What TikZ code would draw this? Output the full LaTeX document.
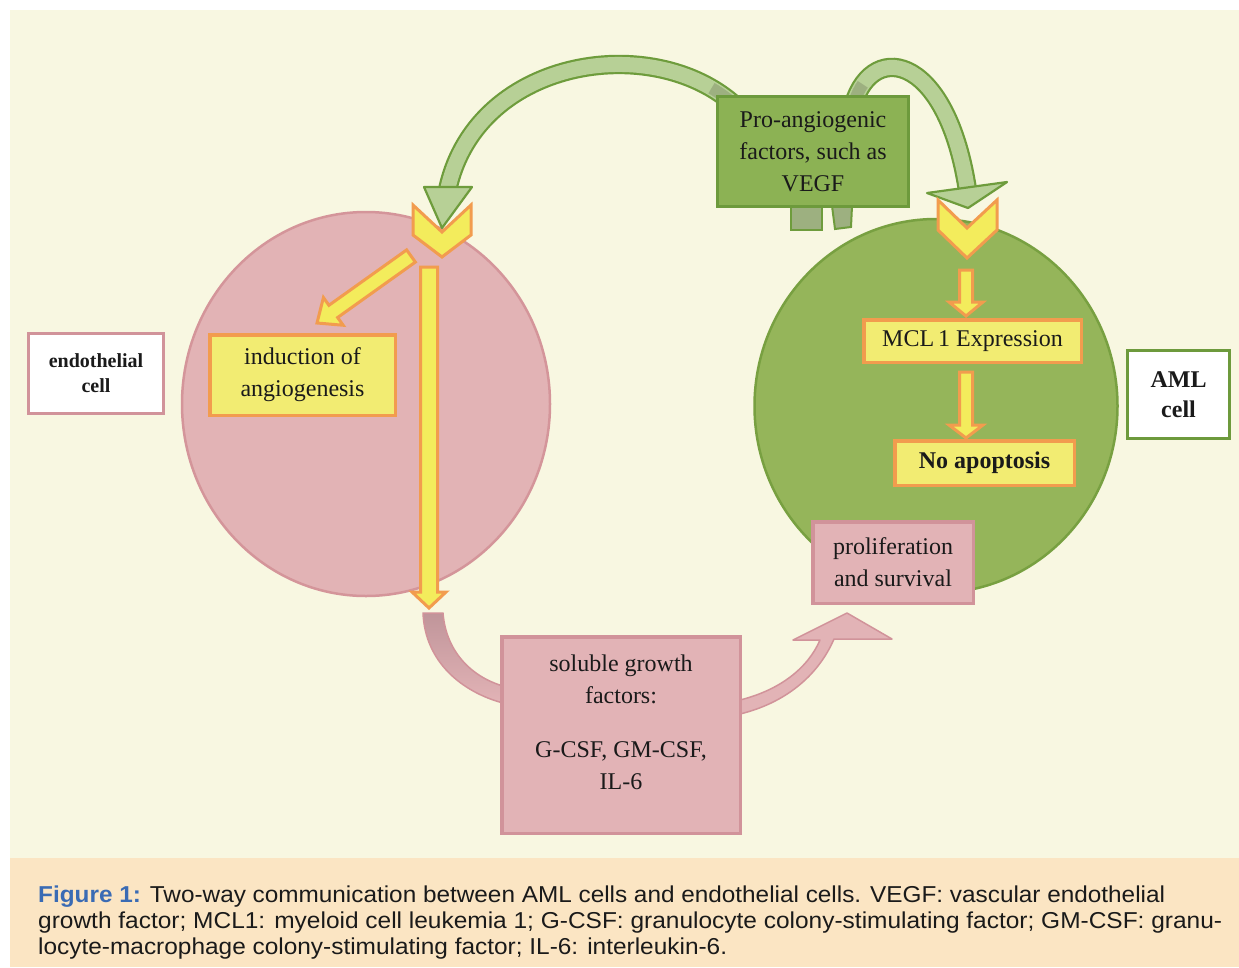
\documentclass[tikz,border=0pt]{standalone}
\usepackage{fontspec}
\setmainfont{Liberation Serif}
\newfontfamily\capfont{Liberation Sans}
\usepackage{graphicx}
\usetikzlibrary{calc,shapes.geometric}
\definecolor{cream}{HTML}{F8F7E1}
\definecolor{capbg}{HTML}{FBE5C3}
\definecolor{pinkc}{HTML}{E2B3B5}
\definecolor{pinkcb}{HTML}{D4959A}
\definecolor{greenc}{HTML}{95B55A}
\definecolor{greencb}{HTML}{78A041}
\definecolor{yellowf}{HTML}{F2EC72}
\definecolor{yellowa}{HTML}{F3EC5C}
\definecolor{orangeb}{HTML}{F29C4E}
\definecolor{greenf}{HTML}{8CB254}
\definecolor{greenb}{HTML}{6D9A3C}
\definecolor{pinkf}{HTML}{E2B3B6}
\definecolor{pinkb}{HTML}{D1939A}
\definecolor{arclight}{HTML}{B7D096}
\definecolor{arcdark}{HTML}{6E9C3C}
\definecolor{arcback}{HTML}{9DB080}
\definecolor{ribdark}{HTML}{C0959A}
\definecolor{txt}{HTML}{1A1A1A}
\definecolor{capblue}{HTML}{3A6BB4}
\newcommand{\diagfont}{\fontsize{24}{32}\selectfont}
\newcommand{\ecfont}{\bfseries\fontsize{20}{25}\selectfont}
\newcommand{\amlfont}{\bfseries\fontsize{24}{30}\selectfont}
\newsavebox{\capbox}
\newcommand{\fitline}[2]{\sbox{\capbox}{#2}\pgfmathsetmacro{\fitratio}{#1/\wd\capbox}\scalebox{\fitratio}[1]{\usebox{\capbox}}}
\newcommand{\blkarrow}[6]{%
  \coordinate (ba-c) at ($(#3)!#6!(#2)$);
  \draw[#1] ($(#2)!#4!90:(#3)$) -- ($(ba-c)!#4!90:(#3)$) -- ($(ba-c)!#5!90:(#3)$) -- (#3)
    -- ($(ba-c)!#5!-90:(#3)$) -- ($(ba-c)!#4!-90:(#3)$) -- ($(#2)!#4!-90:(#3)$) -- cycle;}
\begin{document}
\begin{tikzpicture}[x=1pt,y=-1pt,
  cellshape/.style={ellipse, line width=2.5pt, inner sep=0pt},
  ybox/.style={draw=orangeb, fill=yellowf, line width=3.5pt, inner sep=0pt, align=center, font=\diagfont, text=txt},
  gbox/.style={draw=greenb, fill=greenf, line width=3pt, inner sep=0pt, align=center, font=\diagfont, text=txt},
  pbox/.style={draw=pinkb, fill=pinkf, line width=3.5pt, inner sep=0pt, align=center, font=\diagfont, text=txt},
  wboxp/.style={draw=pinkb, fill=white, line width=3pt, inner sep=0pt, align=center, font=\ecfont, text=txt},
  wboxg/.style={draw=greenb, fill=white, line width=3pt, inner sep=0pt, align=center, font=\amlfont, text=txt},
  plaintext/.style={inner sep=0pt, align=center, font=\diagfont, text=txt},
  yarrow/.style={draw=orangeb, fill=yellowa, line width=3pt, line join=miter},
  chev/.style={draw=orangeb, fill=yellowa, line width=3pt, line join=miter},
  garc/.style={line width=2.2pt, draw=arcdark, double=arclight, double distance=15pt},
  gback/.style={line width=12pt, draw=arcback, dash pattern=on 36pt off 3000pt},
  ghead/.style={draw=arcdark, fill=arclight, line width=2.2pt, line join=round},
  stub/.style={draw=arcdark, fill=arcback, line width=2pt},
  ribbon/.style={draw=pinkb, line width=1.5pt, line join=round},
  capline/.style={anchor=base west, inner sep=0pt, font=\capfont\fontsize{23}{26}\selectfont, text=txt}
]
\useasboundingbox (0,0) rectangle (1239,967);
\fill[white] (0,0) rectangle (1239,967);
\fill[cream] (10,10) rectangle (1239,858);
\fill[capbg] (10,858) rectangle (1239,967);

% cells
\node[cellshape, draw=pinkcb, fill=pinkc, minimum width=368pt, minimum height=384pt] (ecell) at (366,404) {};
\node[cellshape, draw=greencb, fill=greenc, minimum width=363pt, minimum height=374pt] (acell) at (936,406) {};

% green curved arrows
\coordinate (la0) at (740,110);
\coordinate (la1) at (660,30);
\coordinate (la2) at (478,55);
\coordinate (la3) at (448,188);
\coordinate (ra0) at (852,110);
\coordinate (ra1) at (868,40);
\coordinate (ra2) at (945,50);
\coordinate (ra3) at (967,187);
\draw[garc] (la0) .. controls (la1) and (la2) .. (la3);
\draw[gback] (la0) .. controls (la1) and (la2) .. (la3);
\draw[garc] (ra0) .. controls (ra1) and (ra2) .. (ra3);
\draw[gback, dash pattern=on 28pt off 3000pt] (ra0) .. controls (ra1) and (ra2) .. (ra3);
\coordinate (lhl) at (424,187);
\coordinate (lht) at (442,228);
\coordinate (lhr) at (472,187);
\coordinate (rhl) at (927,193);
\coordinate (rht) at (968,208);
\coordinate (rhr) at (1007,182);
\draw[ghead] (lhl) -- (lht) -- (lhr) -- cycle;
\draw[ghead] (rhl) -- (rht) -- (rhr) -- cycle;

% stubs under the box
\draw[stub] (791,206) rectangle (822,230);
\draw[stub] (832,206) -- (852,206) -- (851,227) -- (835,229) -- cycle;

% pro-angiogenic box
\node[gbox, minimum width=191pt, minimum height=110pt] (proang) at (813,151.5) {Pro-angiogenic\\factors, such as\\VEGF};

% chevrons
\draw[chev] (413,205) -- (442,232) -- (471,205) -- (471,235) -- (442,257) -- (413,235) -- cycle;
\draw[chev] (938,200) -- (967,228) -- (997,200) -- (997,230) -- (967,258) -- (938,230) -- cycle;

% yellow arrows
\coordinate (va0) at (429,267);
\coordinate (va1) at (429,608);
\coordinate (da0) at (411,256);
\coordinate (da1) at (317,323);
\coordinate (ma0) at (966,270);
\coordinate (ma1) at (966,316);
\coordinate (na0) at (966,372);
\coordinate (na1) at (966,438);
\blkarrow{yarrow}{va0}{va1}{8.5pt}{17pt}{16pt}
\blkarrow{yarrow}{da0}{da1}{7.5pt}{17pt}{20pt}
\blkarrow{yarrow}{ma0}{ma1}{6.5pt}{17pt}{14pt}
\blkarrow{yarrow}{na0}{na1}{6.5pt}{17pt}{13pt}

% inner boxes
\node[ybox, minimum width=185.5pt, minimum height=80.5pt] (induc) at (302.5,375) {induction of\\angiogenesis};
\node[ybox, minimum width=217.5pt, minimum height=42.5pt] (mcl) at (972.5,341) {MCL\,1 Expression};
\node[ybox, minimum width=179.5pt, minimum height=44.5pt, font=\diagfont\bfseries] (noapo) at (984.5,463) {No apoptosis};

% pink ribbons
\path[ribbon, top color=ribdark, bottom color=pinkf] (423,613) .. controls (425,662) and (462,692) .. (503,703) -- (503,686) .. controls (472,677) and (446,652) .. (443,613) -- cycle;
\path[ribbon, fill=pinkf] (740,700) .. controls (780,690) and (808,668) .. (820,640) -- (793,640) -- (847,613) -- (892,639) -- (834,639) .. controls (818,676) and (785,703) .. (740,714) -- cycle;

\node[pbox, minimum width=160.5pt, minimum height=81.5pt] (prolif) at (893,562.5) {proliferation\\and survival};
\node[pbox, minimum width=238.5pt, minimum height=196.5pt] (soluble) at (621,735) {};
\node[plaintext] (soltext) at (621,722) {soluble growth\\factors:\\[22pt]G-CSF, GM-CSF,\\IL-6};

% cell labels
\node[wboxp, minimum width=135pt, minimum height=80pt] (endo) at (96,373.5) {endothelial\\cell};
\node[wboxg, minimum width=102pt, minimum height=88pt] (aml) at (1178.5,394.5) {AML\\cell};

% caption
\node[capline] (cap1) at (38,902) {\fitline{1127}{{\bfseries\color{capblue}Figure 1:} Two-way communication between AML cells and endothelial cells. VEGF: vascular endothelial}};
\node[capline] (cap2) at (38,928) {\fitline{1184}{growth factor; MCL1: myeloid cell leukemia 1; G-CSF: granulocyte colony-stimulating factor; GM-CSF: granu-}};
\node[capline] (cap3) at (38,954) {\fitline{689}{locyte-macrophage colony-stimulating factor; IL-6: interleukin-6.}};
\end{tikzpicture}
\end{document}
